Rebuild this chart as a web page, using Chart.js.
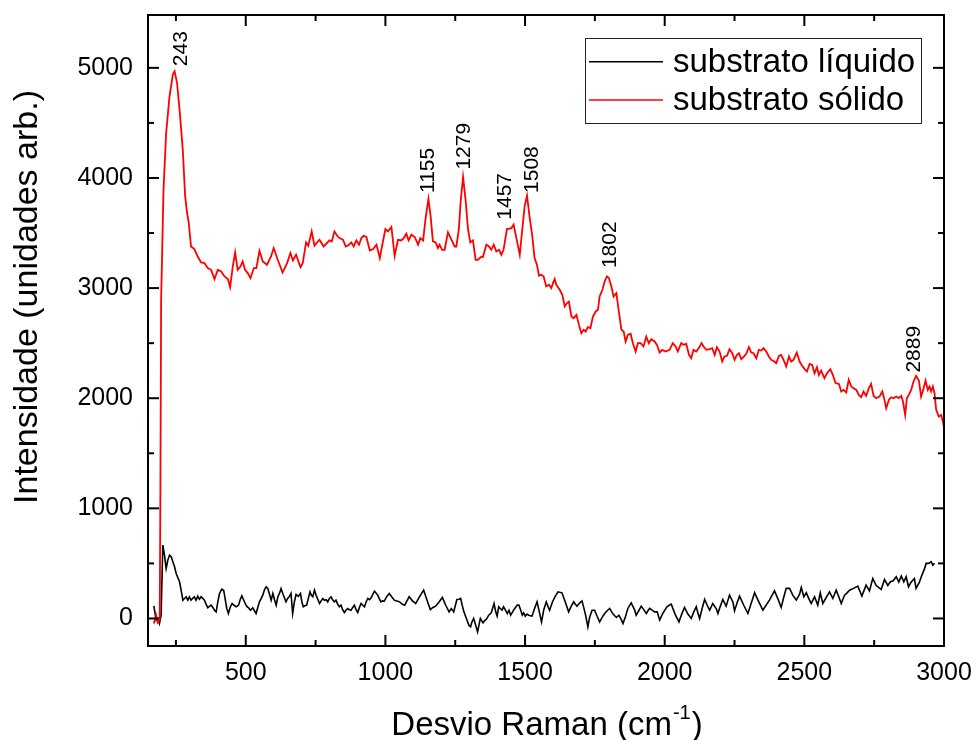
<!DOCTYPE html>
<html>
<head>
<meta charset="utf-8">
<script src="https://cdn.jsdelivr.net/npm/chart.js@4/dist/chart.umd.min.js"></script>
<style>
  body { margin: 0; background: #fff; }
  #chart { display: block; }
</style>
</head>
<body>
<canvas id="chart" width="978" height="740"></canvas>
<script>
// substrato sólido (red)
const red_x = [171, 179, 185, 192, 194.5, 197, 205.5, 215, 227, 239, 245, 254, 263, 274.5, 283, 290, 296, 304,
  316, 328, 340, 352, 364, 376, 388, 400, 412, 424, 436, 444, 453.5, 462, 471, 481, 489, 497.5, 507, 517, 529,
  538, 549, 561, 576, 590.5, 600, 614.5, 632, 648, 660, 669, 680, 696, 704, 716, 724, 736, 746, 764, 779, 800,
  808, 817.5, 829, 836, 848, 858, 870, 878, 886.5, 896, 905.5, 914, 922, 932, 944, 956, 968, 980, 989, 1000,
  1009, 1021.5, 1033, 1045, 1057, 1065.5, 1075, 1083, 1093, 1105, 1117, 1125, 1135, 1144, 1154, 1162, 1170,
  1180, 1188, 1194, 1203, 1212, 1224, 1234, 1248, 1254, 1263, 1269.5, 1278, 1287, 1296, 1304, 1313.5, 1323,
  1331, 1344, 1349, 1361.5, 1371, 1379, 1388, 1397, 1407, 1415, 1423, 1435, 1451, 1459, 1469, 1481, 1490,
  1498.5, 1507, 1516, 1526, 1534, 1542.5, 1550, 1558, 1566.5, 1576, 1585.5, 1594, 1600, 1606, 1612, 1624,
  1633.5, 1642, 1650, 1657, 1666, 1674, 1684, 1693, 1701.5, 1710, 1717, 1725, 1734, 1743, 1753, 1761, 1767,
  1777, 1785, 1793, 1800, 1809, 1817, 1827, 1835, 1845, 1853, 1860, 1868, 1878, 1886, 1896, 1904, 1914, 1924,
  1934, 1943, 1952, 1964, 1972, 1982, 1991, 2003, 2017.5, 2029, 2039, 2047, 2059, 2068, 2077, 2087, 2095, 2103,
  2113, 2122, 2132, 2139, 2149, 2161, 2170, 2179, 2187, 2196.5, 2206, 2214, 2223, 2232, 2242, 2250, 2258.5,
  2266, 2274, 2282, 2292, 2301.5, 2310, 2318, 2328, 2337, 2346, 2354, 2363.5, 2373, 2381, 2393, 2399, 2409,
  2417, 2425.5, 2435, 2445, 2453, 2461, 2473, 2483, 2492, 2501, 2509, 2519, 2528, 2536.5, 2545, 2552, 2560,
  2572, 2581, 2593, 2602, 2612, 2624, 2632, 2640, 2650, 2659, 2668, 2676, 2686, 2695, 2703.5, 2712, 2721, 2731,
  2739, 2748, 2757, 2769, 2779, 2787, 2793, 2802.5, 2811, 2819, 2829, 2838, 2847, 2853, 2861, 2867, 2874,
  2882.5, 2891, 2900, 2910, 2918, 2927, 2934, 2942, 2948, 2954, 2960, 2966, 2972, 2981.5, 2990, 2996, 2999]
const red_y = [-46, 30, -37, -10, 1200, 2894, 3894, 4409, 4742, 4939, 4970, 4864, 4621, 4257, 3833, 3682, 3591, 3378,
  3355, 3287, 3233, 3227, 3182, 3166, 3082, 3166, 3151, 3106, 3082, 3009, 3196, 3324, 3166, 3196, 3242, 3166,
  3136, 3091, 3182, 3182, 3339, 3242, 3212, 3287, 3364, 3257, 3142, 3227, 3318, 3251, 3303, 3191, 3227, 3415,
  3385, 3515, 3385, 3439, 3378, 3433, 3424, 3515, 3469, 3454, 3439, 3378, 3394, 3415, 3378, 3433, 3394, 3454,
  3475, 3464, 3342, 3355, 3394, 3273, 3394, 3536, 3515, 3555, 3294, 3439, 3433, 3454, 3494, 3433, 3485, 3464,
  3394, 3454, 3433, 3636, 3810, 3651, 3424, 3415, 3364, 3394, 3348, 3348, 3506, 3454, 3378, 3378, 3536, 3787,
  4010, 3803, 3530, 3415, 3433, 3257, 3257, 3287, 3282, 3394, 3378, 3348, 3394, 3333, 3348, 3303, 3348, 3536,
  3545, 3576, 3454, 3303, 3530, 3742, 3840, 3651, 3469, 3273, 3212, 3112, 3121, 3106, 3015, 3030, 3000, 3045,
  3082, 3030, 2985, 2939, 2833, 2864, 2878, 2742, 2727, 2757, 2666, 2591, 2621, 2606, 2645, 2636, 2742, 2788,
  2803, 2924, 2985, 3060, 3106, 3091, 3015, 2924, 2955, 2803, 2621, 2606, 2515, 2575, 2585, 2500, 2424, 2500,
  2500, 2470, 2560, 2500, 2536, 2515, 2485, 2415, 2439, 2424, 2439, 2500, 2470, 2424, 2500, 2485, 2494, 2394,
  2364, 2439, 2424, 2455, 2500, 2470, 2439, 2445, 2455, 2394, 2464, 2424, 2333, 2379, 2385, 2445, 2409, 2348,
  2394, 2409, 2355, 2373, 2403, 2464, 2415, 2409, 2364, 2439, 2433, 2455, 2424, 2379, 2348, 2333, 2318, 2385,
  2394, 2348, 2288, 2379, 2333, 2348, 2415, 2333, 2294, 2264, 2242, 2312, 2303, 2227, 2282, 2212, 2251, 2182,
  2227, 2264, 2212, 2136, 2130, 2061, 2076, 2052, 2167, 2106, 2091, 2076, 2030, 2009, 2061, 2021, 2091, 2130,
  2021, 2000, 2015, 2061, 1985, 1909, 1985, 2009, 2000, 2015, 2000, 2021, 1970, 1848, 2000, 2030, 2076, 2152,
  2203, 2161, 2015, 2091, 2161, 2076, 2106, 2061, 2106, 2045, 1894, 1833, 1848, 1788, 1748]

// substrato líquido (black)
const black_x = [171, 179, 185, 191, 197, 203, 209, 215, 221, 227, 233, 239, 245, 251, 257, 263, 269, 275, 280.5,
  286.5, 292.5, 298, 304, 310, 316, 322, 328, 334, 340, 346, 352, 358, 364, 370, 376, 382, 388, 394, 400, 406,
  414, 421, 426, 432, 438, 444, 451, 458, 465.5, 474, 480, 486, 492, 498, 504, 510, 517, 525, 531, 537, 543,
  549, 555, 561, 567, 573, 579, 585, 591, 597, 603, 609, 615, 621, 626.5, 632.5, 638, 644, 650, 656, 662, 668,
  674, 680, 688, 696, 701, 706, 712, 718, 724, 730, 735, 740, 746, 752, 758, 764, 770, 776, 782, 788, 793.5,
  799, 805.5, 811, 817, 823, 829, 835, 841, 847, 853, 859, 865, 871, 877, 883, 889, 895, 901, 907, 913, 919,
  925, 931, 937, 943, 949, 955, 961, 967, 972.5, 978, 984, 990, 996, 1005, 1014, 1023, 1032, 1038, 1044, 1051,
  1060, 1069, 1077, 1085, 1097, 1108.5, 1123, 1137, 1147, 1154, 1161, 1170, 1180, 1192, 1204, 1216, 1228,
  1236, 1244.5, 1256, 1263, 1269.5, 1275, 1281, 1290, 1299, 1305, 1310, 1316, 1323, 1330, 1335, 1340, 1349.5,
  1355, 1361, 1370, 1379, 1389, 1395, 1400, 1405.5, 1411, 1417.5, 1423, 1430, 1436.5, 1442.5, 1448.5, 1460,
  1472, 1478, 1484, 1490, 1495, 1501, 1507, 1513, 1519, 1525, 1534, 1543, 1551, 1559, 1567, 1576, 1582, 1588,
  1598, 1608, 1618, 1632, 1644, 1656, 1665, 1674, 1680, 1686, 1695, 1704, 1716, 1725, 1731, 1740, 1749, 1758,
  1767, 1776, 1785, 1794, 1803, 1815, 1827, 1836, 1844.5, 1850.5, 1860, 1868, 1880, 1892, 1898, 1907, 1916,
  1925, 1934, 1940, 1946, 1955, 1964, 1973, 1982, 1994, 2008, 2016, 2023.5, 2037, 2051, 2061, 2071, 2083,
  2095, 2104, 2113, 2119, 2125, 2134, 2143, 2152, 2161, 2172, 2184.5, 2190.5, 2199, 2208, 2220, 2232, 2244,
  2250, 2259, 2268, 2283, 2298, 2310, 2322, 2337, 2351.5, 2363, 2375, 2393, 2405, 2417, 2426, 2435, 2447, 2459,
  2471, 2483, 2489, 2498, 2507, 2516, 2524.5, 2536.5, 2548, 2557, 2566, 2578, 2590, 2602, 2614, 2623, 2632,
  2638, 2644, 2652, 2662, 2676, 2691.5, 2706, 2721, 2733, 2745, 2757, 2775, 2787, 2799, 2808, 2817, 2829, 2838,
  2847, 2856, 2864.5, 2873, 2882, 2894, 2900, 2912, 2921, 2930, 2936, 2945, 2954, 2960, 2966, 2978, 2990, 2996,
  3000]
const black_y = [115, -15, 0, -46, 30, 666, 575, 454, 530, 575, 560, 515, 470, 409, 370, 333, 250, 166, 182,
  197, 166, 197, 166, 182, 197, 166, 203, 175, 197, 182, 166, 130, 97, 110, 121, 100, 75, 60, 150, 227,
  266, 257, 180, 91, 45, 100, 136, 120, 106, 121, 170, 206, 170, 136, 110, 97, 75, 97, 70, 45, 100,
  151, 180, 212, 260, 287, 272, 220, 166, 227, 170, 121, 197, 230, 272, 227, 190, 151, 182, 200, 227, 45,
  150, 218, 200, 227, 150, 106, 115, 121, 180, 242, 210, 197, 257, 210, 175, 136, 160, 182, 165, 170, 151,
  180, 197, 170, 151, 166, 130, 106, 121, 80, 54, 75, 91, 80, 75, 100, 121, 80, 54, 100, 136, 120,
  106, 150, 182, 170, 188, 220, 248, 230, 212, 180, 151, 160, 157, 200, 227, 195, 166, 160, 157, 151,
  130, 121, 160, 197, 160, 136, 200, 257, 182, 130, 81, 100, 112, 150, 191, 120, 60, 90, 60, 172, 175, 182,
  120, 60, 0, -61, -76, -30, 0, -60, -122, -60, 0, -40, -20, -9, 30, 51, 136, 60, 21, 106, 90, 75, 106, 75,
  45, 75, 30, 80, 121, 121, 80, 30, 51, 21, 40, 30, 25, 21, 90, 151, 60, -31, 80, 151, 110, 75, 150, 200,
  242, 233, 150, 60, 110, 151, 130, 112, 140, 160, 40, -76, 10, 75, 75, 20, -31, 10, 45, 70, 91, 40, 9, 30,
  -10, -46, 20, 91, 142, 80, 30, 70, 112, 80, 45, 70, 91, 75, 60, 60, -15, 50, 106, 120, 130, 40, -31, 40,
  100, 40, 0, 60, 106, 50, 0, 90, 173, 120, 76, 136, 90, 45, 110, 173, 112, 212, 150, 70, 140, 203, 120, 45,
  140, 233, 150, 76, 120, 167, 251, 180, 100, 190, 273, 273, 210, 167, 220, 282, 197, 233, 180, 136, 197, 121,
  233, 136, 190, 242, 182, 257, 200, 136, 175, 212, 230, 257, 273, 294, 203, 303, 250, 363, 300, 263, 354, 300,
  333, 340, 379, 330, 385, 333, 379, 288, 330, 363, 273, 330, 394, 450, 500, 500, 515, 485, 500]

const x_tick_values = [500, 1000, 1500, 2000, 2500, 3000]
const x_minor_values = [250, 750, 1250, 1750, 2250, 2750]
const y_tick_values = [0, 1000, 2000, 3000, 4000, 5000]
const y_minor_values = [500, 1500, 2500, 3500, 4500]

const peak_labels = ['243', '1155', '1279', '1457', '1508', '1802', '2889']
const peak_label_x = [269, 1152, 1281, 1430, 1525, 1805, 2894]
const peak_label_y = [5015, 3864, 4076, 3621, 3864, 3182, 2233]

const series_names = ['substrato líquido', 'substrato sólido']
const series_colors = ['#000000', '#ff0000']

const FONT = "'Liberation Sans', Arial, sans-serif"

const decorations = {
  id: 'decorations',
  afterDraw(chart) {
    const ctx = chart.ctx
    const area = chart.chartArea
    const xs = chart.scales.x
    const ys = chart.scales.y
    ctx.save()

    // frame
    ctx.strokeStyle = '#000'
    ctx.lineWidth = 2
    ctx.strokeRect(area.left, area.top, area.right - area.left, area.bottom - area.top)

    // inward ticks on all four sides
    const tick = (x1, y1, x2, y2) => {
      ctx.beginPath(); ctx.moveTo(x1, y1); ctx.lineTo(x2, y2); ctx.stroke()
    }
    x_tick_values.forEach(v => {
      const p = xs.getPixelForValue(v)
      tick(p, area.bottom, p, area.bottom - 11)
      tick(p, area.top, p, area.top + 11)
    })
    x_minor_values.forEach(v => {
      const p = xs.getPixelForValue(v)
      tick(p, area.bottom, p, area.bottom - 6)
      tick(p, area.top, p, area.top + 6)
    })
    y_tick_values.forEach(v => {
      const p = ys.getPixelForValue(v)
      tick(area.left, p, area.left + 11, p)
      tick(area.right, p, area.right - 11, p)
    })
    y_minor_values.forEach(v => {
      const p = ys.getPixelForValue(v)
      tick(area.left, p, area.left + 6, p)
      tick(area.right, p, area.right - 6, p)
    })

    // peak labels
    ctx.fillStyle = '#000'
    ctx.font = '21px ' + FONT
    ctx.textAlign = 'left'
    ctx.textBaseline = 'middle'
    peak_labels.forEach((txt, i) => {
      ctx.save()
      ctx.translate(xs.getPixelForValue(peak_label_x[i]), ys.getPixelForValue(peak_label_y[i]))
      ctx.rotate(-Math.PI / 2)
      ctx.fillText(txt, 0, 0)
      ctx.restore()
    })

    // y axis title
    ctx.save()
    ctx.font = '34px ' + FONT
    ctx.textAlign = 'center'
    ctx.textBaseline = 'middle'
    ctx.translate(28, 297)
    ctx.rotate(-Math.PI / 2)
    ctx.fillText('Intensidade (unidades arb.)', 0, 0)
    ctx.restore()

    // x axis title with superscript
    const main = 'Desvio Raman (cm'
    const sup = '-1'
    const close = ')'
    ctx.textBaseline = 'alphabetic'
    ctx.textAlign = 'left'
    ctx.font = '33px ' + FONT
    const w1 = ctx.measureText(main).width
    const w3 = ctx.measureText(close).width
    ctx.font = '20px ' + FONT
    const w2 = ctx.measureText(sup).width
    const cx = (area.left + area.right) / 2
    const x0 = cx - (w1 + w2 + w3) / 2
    ctx.font = '33px ' + FONT
    ctx.fillText(main, x0, 735)
    ctx.font = '20px ' + FONT
    ctx.fillText(sup, x0 + w1 + 1, 719)
    ctx.font = '33px ' + FONT
    ctx.fillText(close, x0 + w1 + w2 + 2, 735)

    // legend box
    ctx.lineWidth = 1
    ctx.strokeStyle = '#222'
    ctx.strokeRect(585.5, 38.5, 336, 85)
    const rows = [61.7, 100]
    ctx.font = '33px ' + FONT
    ctx.textBaseline = 'middle'
    series_names.forEach((name, i) => {
      ctx.strokeStyle = series_colors[i]
      ctx.lineWidth = 1.6
      tick(589, rows[i], 663, rows[i])
      ctx.fillStyle = '#000'
      ctx.fillText(name, 673, rows[i] + 1)
    })

    ctx.restore()
  }
}

const ctx = document.getElementById('chart')
const myChart = new Chart(ctx, {
  type: 'line',
  data: {
    datasets: [
      {
        label: series_names[0],
        data: black_x.map((x, i) => ({ x: x, y: black_y[i] })),
        borderColor: series_colors[0],
        borderWidth: 1.6,
        pointRadius: 0,
        tension: 0,
        order: 2
      },
      {
        label: series_names[1],
        data: red_x.map((x, i) => ({ x: x, y: red_y[i] })),
        borderColor: series_colors[1],
        borderWidth: 1.8,
        pointRadius: 0,
        tension: 0,
        order: 1
      }
    ]
  },
  options: {
    responsive: false,
    animation: false,
    devicePixelRatio: 1,
    layout: { padding: { left: 0, right: 34, top: 15, bottom: 0 } },
    plugins: { legend: { display: false }, tooltip: { enabled: false } },
    scales: {
      x: {
        type: 'linear',
        min: 150,
        max: 3000,
        grid: { display: false, drawTicks: false, tickLength: 0 },
        border: { display: false },
        afterBuildTicks: s => { s.ticks = x_tick_values.map(v => ({ value: v })) },
        afterFit: s => { s.height = 94; s.paddingLeft = 0; s.paddingRight = 0 },
        ticks: { color: '#000', font: { family: FONT, size: 25 }, padding: 12, maxRotation: 0,
          callback: v => String(v) }
      },
      y: {
        type: 'linear',
        min: -250,
        max: 5480,
        grid: { display: false, drawTicks: false, tickLength: 0 },
        border: { display: false },
        afterBuildTicks: s => { s.ticks = y_tick_values.map(v => ({ value: v })) },
        afterFit: s => { s.width = 148; s.paddingTop = 0; s.paddingBottom = 0 },
        ticks: { color: '#000', font: { family: FONT, size: 25 }, padding: 15,
          callback: v => String(v) }
      }
    }
  },
  plugins: [decorations]
})
</script>
</body>
</html>
